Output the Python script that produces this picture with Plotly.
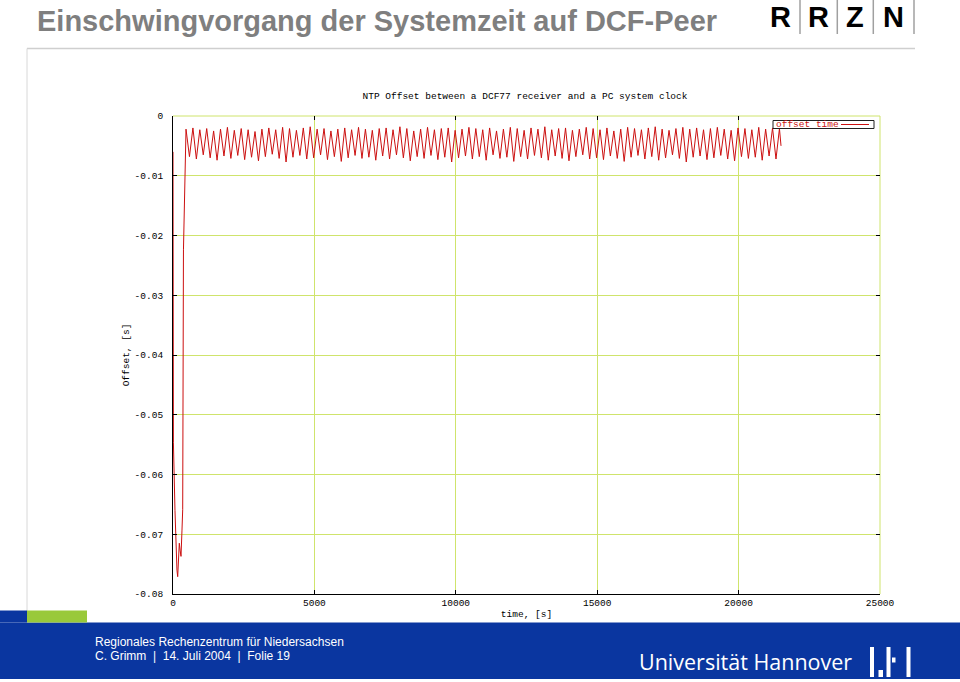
import plotly.graph_objects as go

# ---------------- data ----------------
# initial transient (time in s, offset in s)
t_transient = [0, 5, 15, 70, 106, 140, 166, 200, 223, 255, 283, 318, 343, 370, 424]
y_transient = [-0.0060, -0.0258, -0.0547, -0.0660, -0.0738, -0.0760, -0.0771, -0.0740,
               -0.0715, -0.0728, -0.0737, -0.0693, -0.0659, -0.0224, -0.0068]

# steady-state oscillation, alternating peaks and troughs
t_steady = [460, 582, 704, 826, 948, 1070, 1192, 1314, 1436, 1558,
            1680, 1802, 1924, 2046, 2168, 2290, 2412, 2534, 2656, 2778,
            2900, 3022, 3144, 3266, 3388, 3510, 3632, 3754, 3876, 3998,
            4120, 4242, 4364, 4486, 4608, 4730, 4852, 4974, 5096, 5218,
            5340, 5462, 5584, 5706, 5828, 5950, 6072, 6194, 6316, 6438,
            6560, 6682, 6804, 6926, 7048, 7170, 7292, 7414, 7536, 7658,
            7780, 7902, 8024, 8146, 8268, 8390, 8512, 8634, 8756, 8878,
            9000, 9122, 9244, 9366, 9488, 9610, 9732, 9854, 9976, 10098,
            10220, 10342, 10464, 10586, 10708, 10830, 10952, 11074, 11196, 11318,
            11440, 11562, 11684, 11806, 11928, 12050, 12172, 12294, 12416, 12538,
            12660, 12782, 12904, 13026, 13148, 13270, 13392, 13514, 13636, 13758,
            13880, 14002, 14124, 14246, 14368, 14490, 14612, 14734, 14856, 14978,
            15100, 15222, 15344, 15466, 15588, 15710, 15832, 15954, 16076, 16198,
            16320, 16442, 16564, 16686, 16808, 16930, 17052, 17174, 17296, 17418,
            17540, 17662, 17784, 17906, 18028, 18150, 18272, 18394, 18516, 18638,
            18760, 18882, 19004, 19126, 19248, 19370, 19492, 19614, 19736, 19858,
            19980, 20102, 20224, 20346, 20468, 20590, 20712, 20834, 20956, 21078,
            21200, 21322, 21444, 21500]
y_steady = [-0.0022, -0.0068, -0.0020, -0.0072, -0.0023, -0.0065, -0.0021, -0.0070, -0.0025, -0.0074,
            -0.0022, -0.0067, -0.0019, -0.0071, -0.0024, -0.0066, -0.0021, -0.0073, -0.0023, -0.0069,
            -0.0026, -0.0075, -0.0022, -0.0068, -0.0020, -0.0064, -0.0023, -0.0071, -0.0019, -0.0077,
            -0.0021, -0.0069, -0.0024, -0.0066, -0.0020, -0.0072, -0.0018, -0.0070, -0.0022, -0.0065,
            -0.0021, -0.0073, -0.0025, -0.0068, -0.0022, -0.0076, -0.0020, -0.0070, -0.0023, -0.0066,
            -0.0019, -0.0071, -0.0022, -0.0069, -0.0024, -0.0074, -0.0021, -0.0067, -0.0020, -0.0072,
            -0.0023, -0.0065, -0.0018, -0.0070, -0.0021, -0.0075, -0.0025, -0.0068, -0.0022, -0.0071,
            -0.0019, -0.0066, -0.0023, -0.0073, -0.0021, -0.0069, -0.0020, -0.0077, -0.0024, -0.0070,
            -0.0022, -0.0067, -0.0019, -0.0072, -0.0021, -0.0068, -0.0023, -0.0074, -0.0020, -0.0065,
            -0.0025, -0.0071, -0.0022, -0.0069, -0.0019, -0.0076, -0.0021, -0.0068, -0.0024, -0.0072,
            -0.0020, -0.0066, -0.0022, -0.0070, -0.0018, -0.0074, -0.0023, -0.0067, -0.0021, -0.0071,
            -0.0020, -0.0075, -0.0024, -0.0068, -0.0022, -0.0065, -0.0019, -0.0072, -0.0021, -0.0070,
            -0.0023, -0.0073, -0.0020, -0.0067, -0.0025, -0.0071, -0.0022, -0.0076, -0.0019, -0.0069,
            -0.0021, -0.0066, -0.0023, -0.0072, -0.0020, -0.0068, -0.0018, -0.0074, -0.0022, -0.0070,
            -0.0024, -0.0065, -0.0021, -0.0071, -0.0019, -0.0077, -0.0022, -0.0069, -0.0020, -0.0067,
            -0.0023, -0.0073, -0.0021, -0.0070, -0.0019, -0.0066, -0.0022, -0.0072, -0.0024, -0.0075,
            -0.0020, -0.0068, -0.0021, -0.0071, -0.0023, -0.0069, -0.0019, -0.0074, -0.0022, -0.0067,
            -0.0020, -0.0072, -0.0021, -0.0050]

x_tick_vals = [0, 5000, 10000, 15000, 20000, 25000]
x_tick_text = ["0", "5000", "10000", "15000", "20000", "25000"]
y_tick_vals = [0, -0.01, -0.02, -0.03, -0.04, -0.05, -0.06, -0.07, -0.08]
y_tick_text = ["0", "-0.01", "-0.02", "-0.03", "-0.04", "-0.05", "-0.06", "-0.07", "-0.08"]

series_name = "offset time"
chart_title = "NTP Offset between a DCF77 receiver and a PC system clock"
x_title = "time, [s]"
y_title = "Offset, [s]"
slide_title = "Einschwingvorgang der Systemzeit auf DCF-Peer"
footer_line1 = "Regionales Rechenzentrum für Niedersachsen"
footer_line2 = "C. Grimm \u00a0|\u00a0 14. Juli 2004 \u00a0|\u00a0 Folie 19"
uni_name = "Universität Hannover"
logo_letters = ["R", "R", "Z", "N"]

# ---------------- geometry ----------------
W, H = 960, 682
L, R, T, B = 173, 80, 116, 88
PW, PH = W - L - R, H - T - B


def px(x):
    return (x - L) / PW


def py(y):
    return (H - B - y) / PH


MONO = "Liberation Mono, DejaVu Sans Mono, monospace"
SANS = "Liberation Sans, Arial, sans-serif"
NARROW = "Liberation Sans Narrow, Liberation Sans, Arial"
GRID = "#cfe46c"
RED = "#cc1010"
BLUE = "#0a36a0"
GREEN = "#99c93a"

fig = go.Figure()
fig.add_trace(go.Scatter(
    x=t_transient + t_steady, y=y_transient + y_steady,
    mode="lines", name=series_name, line=dict(color=RED, width=1),
    showlegend=False, hoverinfo="x+y"))
fig.add_trace(go.Scatter(x=[], y=[], xaxis="x2", yaxis="y2",
                         showlegend=False, hoverinfo="skip"))

axis_common = dict(
    ticks="inside", ticklen=4, tickcolor="black", tickwidth=1,
    zeroline=False, tickfont=dict(family=MONO, size=9.5, color="black"),
)

fig.update_layout(
    width=W, height=H,
    margin=dict(l=L, r=R, t=T, b=B, pad=0),
    paper_bgcolor="white", plot_bgcolor="white",
    showlegend=False,
    title=dict(text=chart_title, x=px(525), xref="paper", xanchor="center",
               y=1 - 96 / H, yref="container", yanchor="middle",
               font=dict(family=MONO, size=9.5, color="black")),
    xaxis=dict(range=[0, 25000], tickmode="array", tickvals=x_tick_vals, ticktext=x_tick_text,
               showline=True, linecolor="black", linewidth=1,
               showgrid=True, gridcolor=GRID, gridwidth=1,
               title=dict(text=x_title, standoff=1, font=dict(family=MONO, size=9.5, color="black")),
               ticklabelstandoff=0, **axis_common),
    yaxis=dict(range=[-0.08, 0], tickmode="array", tickvals=y_tick_vals, ticktext=y_tick_text,
               showline=True, linecolor="black", linewidth=1,
               showgrid=True, gridcolor=GRID, gridwidth=1,
               title=dict(text=y_title, standoff=3, font=dict(family=MONO, size=9.5, color="black")),
               ticklabelstandoff=7, **axis_common),
    xaxis2=dict(range=[0, 25000], overlaying="x", side="top", anchor="y2",
                tickmode="array", tickvals=x_tick_vals, showticklabels=False,
                showline=False, showgrid=False, **axis_common),
    yaxis2=dict(range=[-0.08, 0], overlaying="y", side="right", anchor="x2",
                tickmode="array", tickvals=y_tick_vals, showticklabels=False,
                showline=False, showgrid=False, **axis_common),
)

shapes = []
annotations = []

# frame lines of the plot (top and right edges in grid colour)
shapes.append(dict(type="line", xref="paper", yref="paper", x0=0, x1=1, y0=1, y1=1,
                   line=dict(color=GRID, width=1), layer="below"))
shapes.append(dict(type="line", xref="paper", yref="paper", x0=1, x1=1, y0=0, y1=1,
                   line=dict(color=GRID, width=1), layer="below"))

# legend box
shapes.append(dict(type="rect", xref="paper", yref="paper",
                   x0=px(773), x1=px(874), y0=py(128.5), y1=py(120.5),
                   line=dict(color="#202020", width=1), fillcolor="white"))
shapes.append(dict(type="line", xref="paper", yref="paper",
                   x0=px(841), x1=px(869), y0=py(124.5), y1=py(124.5),
                   line=dict(color=RED, width=1)))
annotations.append(dict(text=series_name, xref="paper", yref="paper", x=px(774), y=py(124.5),
                        xanchor="left", yanchor="middle", showarrow=False,
                        font=dict(family=MONO, size=9.5, color=RED)))

# ---------- slide decoration ----------
shapes.append(dict(type="line", xref="paper", yref="paper", x0=px(27), x1=px(915),
                   y0=py(48.5), y1=py(48.5), line=dict(color="#cfcfcf", width=1.5)))
shapes.append(dict(type="line", xref="paper", yref="paper", x0=px(27), x1=px(27),
                   y0=py(48.5), y1=py(611), line=dict(color="#d8d8d8", width=1)))
shapes.append(dict(type="rect", xref="paper", yref="paper", x0=px(0), x1=px(960),
                   y0=py(679), y1=py(622.5), line=dict(width=0), fillcolor=BLUE))
shapes.append(dict(type="rect", xref="paper", yref="paper", x0=px(0), x1=px(27),
                   y0=py(622.5), y1=py(610.5), line=dict(width=0), fillcolor=BLUE))
shapes.append(dict(type="rect", xref="paper", yref="paper", x0=px(27), x1=px(87),
                   y0=py(622.5), y1=py(610.5), line=dict(width=0), fillcolor=GREEN))
for (a, b, c, d) in [(870, 874, 647, 677), (878.5, 883, 670, 677), (886.5, 890.5, 647, 677),
                     (892, 895.5, 657.5, 662.5), (906.5, 910.5, 647, 677)]:
    shapes.append(dict(type="rect", xref="paper", yref="paper", x0=px(a), x1=px(b),
                       y0=py(d), y1=py(c), line=dict(width=0), fillcolor="white"))
for sx in [800, 837.3, 873.3, 914]:
    shapes.append(dict(type="line", xref="paper", yref="paper", x0=px(sx), x1=px(sx),
                       y0=py(0), y1=py(34), line=dict(color="#a0a0a0", width=1.5)))
for letter, cx in zip(logo_letters, [780.5, 818.7, 854.5, 893.5]):
    annotations.append(dict(text="<b>" + letter + "</b>", xref="paper", yref="paper",
                            x=px(cx), y=py(17.5), xanchor="center", yanchor="middle",
                            showarrow=False, font=dict(family=NARROW, size=29, color="black")))

annotations.append(dict(text="<b>" + slide_title + "</b>", xref="paper", yref="paper",
                        x=px(35), y=py(21), xanchor="left", yanchor="middle", showarrow=False,
                        font=dict(family=SANS, size=29, color="#7f7f7f")))
annotations.append(dict(text=footer_line1, xref="paper", yref="paper",
                        x=px(93), y=py(641.5), xanchor="left", yanchor="middle", showarrow=False,
                        font=dict(family=SANS, size=12, color="white")))
annotations.append(dict(text=footer_line2, xref="paper", yref="paper",
                        x=px(93), y=py(656), xanchor="left", yanchor="middle", showarrow=False,
                        font=dict(family=SANS, size=12, color="white")))
annotations.append(dict(text=uni_name, xref="paper", yref="paper",
                        x=px(637), y=py(661), xanchor="left", yanchor="middle", showarrow=False,
                        font=dict(family="Open Sans, Noto Sans, sans-serif", size=21.5, color="white")))

fig.update_layout(shapes=shapes, annotations=annotations)
fig.write_html("out.html", config={"displayModeBar": False},
               post_script="document.body.style.margin='0';")
